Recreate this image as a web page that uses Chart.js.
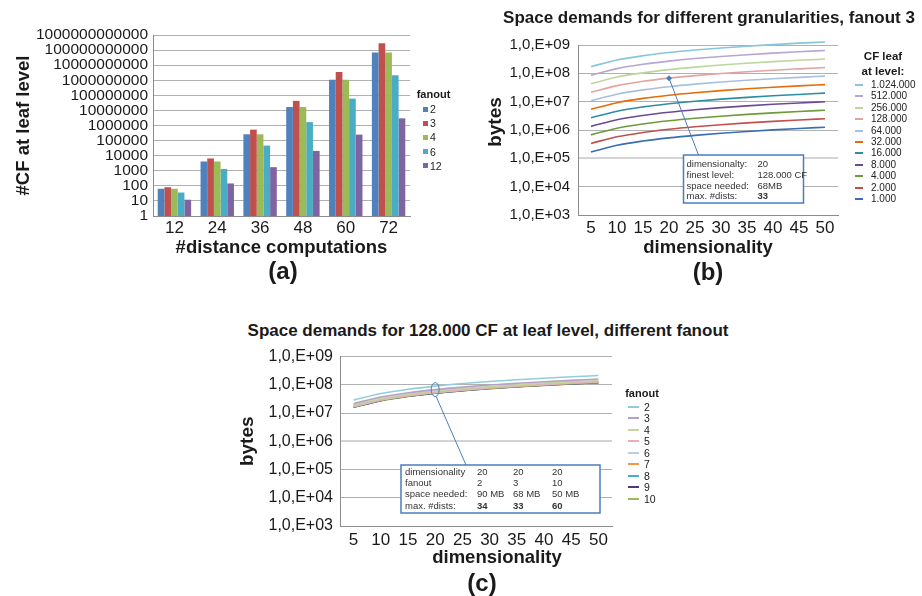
<!DOCTYPE html>
<html><head><meta charset="utf-8">
<script src="https://cdn.jsdelivr.net/npm/chart.js@4.4.1/dist/chart.umd.min.js"></script>
<style>
html,body{margin:0;padding:0;background:#fff}
body{width:922px;height:596px;position:relative;overflow:hidden;font-family:"Liberation Sans",Arial,Helvetica,sans-serif;color:#1a1a1a}
canvas{position:absolute;display:block}
.lbl{position:absolute;white-space:nowrap;font-weight:bold;line-height:1;transform:translate(-50%,-50%)}
.rot{transform:translate(-50%,-50%) rotate(-90deg)}
.li{position:absolute;white-space:nowrap;font-size:10.5px;line-height:1;transform:translateY(-50%);color:#222}
.lt{position:absolute;white-space:nowrap;font-size:11px;font-weight:bold;line-height:1;transform:translate(-50%,-50%)}
.sw{position:absolute}
</style></head><body>
<canvas id="cA" width="460" height="290" style="left:0;top:0;width:460px;height:290px"></canvas>
<canvas id="cB" width="462" height="290" style="left:460px;top:0;width:462px;height:290px"></canvas>
<canvas id="cC" width="440" height="256" style="left:230px;top:340px;width:440px;height:256px"></canvas>
<div class="lbl" style="left:709px;top:17px;font-size:17px">Space demands for different granularities, fanout 3</div>
<div class="lbl" style="left:488px;top:330px;font-size:17px">Space demands for 128.000 CF at leaf level, different fanout</div>
<div class="lbl" style="left:283px;top:271px;font-size:24px">(a)</div>
<div class="lbl" style="left:708px;top:272px;font-size:24px">(b)</div>
<div class="lbl" style="left:482px;top:583px;font-size:24px">(c)</div>
<div class="lbl rot" style="left:494px;top:122px;font-size:19px">bytes</div>
<div class="lbl" style="left:497px;top:557px;font-size:18.5px">dimensionality</div>
<div id="legends"></div>
<script>
// ---------- (a) data ----------
const distComputations = ['12','24','36','48','60','72'];
const fanoutsA = ['2','3','4','6','12'];
const cfFanout2  = [64, 4096, 262144, 16777216, 1073741824, 68719476736];
const cfFanout3  = [81, 6561, 531441, 43046721, 3486784401, 282429536481];
const cfFanout4  = [64, 4096, 262144, 16777216, 1073741824, 68719476736];
const cfFanout6  = [36, 1296, 46656, 1679616, 60466176, 2176782336];
const cfFanout12 = [12, 144, 1728, 20736, 248832, 2985984];
const yTickValuesA = [1,10,100,1000,10000,100000,1000000,10000000,100000000,1000000000,10000000000,100000000000,1000000000000];
const yTickLabelsA = ['1','10','100','1000','10000','100000','1000000','10000000','100000000','1000000000','10000000000','100000000000','1000000000000'];

// ---------- (b) data ----------
const dims = ['5','10','15','20','25','30','35','40','45','50'];
const cfLeafNames = ['1.024.000','512.000','256.000','128.000','64.000','32.000','16.000','8.000','4.000','2.000','1.000'];
const cf1024000 = [1.72e8, 2.95e8, 4.18e8, 5.41e8, 6.64e8, 7.86e8, 9.09e8, 1.03e9, 1.16e9, 1.28e9];
const cf512000  = [8.60e7, 1.47e8, 2.09e8, 2.70e8, 3.32e8, 3.93e8, 4.55e8, 5.16e8, 5.78e8, 6.39e8];
const cf256000  = [4.30e7, 7.37e7, 1.04e8, 1.35e8, 1.66e8, 1.97e8, 2.27e8, 2.58e8, 2.89e8, 3.19e8];
const cf128000  = [2.15e7, 3.69e7, 5.22e7, 6.76e7, 8.29e7, 9.83e7, 1.14e8, 1.29e8, 1.44e8, 1.60e8];
const cf64000   = [1.08e7, 1.84e7, 2.61e7, 3.38e7, 4.15e7, 4.92e7, 5.68e7, 6.45e7, 7.22e7, 7.99e7];
const cf32000   = [5.38e6, 9.22e6, 1.31e7, 1.69e7, 2.07e7, 2.46e7, 2.84e7, 3.23e7, 3.61e7, 3.99e7];
const cf16000   = [2.69e6, 4.61e6, 6.53e6, 8.45e6, 1.04e7, 1.23e7, 1.42e7, 1.61e7, 1.80e7, 2.00e7];
const cf8000    = [1.34e6, 2.30e6, 3.26e6, 4.22e6, 5.18e6, 6.14e6, 7.10e6, 8.06e6, 9.02e6, 9.98e6];
const cf4000    = [6.72e5, 1.15e6, 1.63e6, 2.11e6, 2.59e6, 3.07e6, 3.55e6, 4.03e6, 4.51e6, 4.99e6];
const cf2000    = [3.36e5, 5.76e5, 8.16e5, 1.06e6, 1.30e6, 1.54e6, 1.78e6, 2.02e6, 2.26e6, 2.50e6];
const cf1000    = [1.68e5, 2.88e5, 4.08e5, 5.28e5, 6.48e5, 7.68e5, 8.88e5, 1.01e6, 1.13e6, 1.25e6];
const yTickValuesBC = [1e3,1e4,1e5,1e6,1e7,1e8,1e9];
const yTickLabelsBC = ['1,0,E+03','1,0,E+04','1,0,E+05','1,0,E+06','1,0,E+07','1,0,E+08','1,0,E+09'];

// ---------- (c) data ----------
const fanoutsC = ['2','3','4','5','6','7','8','9','10'];
const fan2  = [2.87e7, 4.92e7, 6.96e7, 9.01e7, 1.11e8, 1.31e8, 1.52e8, 1.72e8, 1.93e8, 2.13e8];
const fan3  = [2.15e7, 3.69e7, 5.22e7, 6.76e7, 8.29e7, 9.83e7, 1.14e8, 1.29e8, 1.44e8, 1.60e8];
const fan4  = [1.91e7, 3.28e7, 4.64e7, 6.01e7, 7.37e7, 8.74e7, 1.01e8, 1.15e8, 1.28e8, 1.42e8];
const fan5  = [1.79e7, 3.07e7, 4.35e7, 5.63e7, 6.91e7, 8.19e7, 9.47e7, 1.08e8, 1.20e8, 1.33e8];
const fan6  = [1.72e7, 2.95e7, 4.18e7, 5.41e7, 6.64e7, 7.86e7, 9.09e7, 1.03e8, 1.16e8, 1.28e8];
const fan7  = [1.67e7, 2.87e7, 4.06e7, 5.26e7, 6.45e7, 7.65e7, 8.84e7, 1.00e8, 1.12e8, 1.24e8];
const fan8  = [1.64e7, 2.81e7, 3.98e7, 5.15e7, 6.32e7, 7.49e7, 8.66e7, 9.83e7, 1.10e8, 1.22e8];
const fan9  = [1.61e7, 2.76e7, 3.92e7, 5.07e7, 6.22e7, 7.37e7, 8.53e7, 9.68e7, 1.08e8, 1.20e8];
const fan10 = [1.59e7, 2.73e7, 3.87e7, 5.01e7, 6.14e7, 7.28e7, 8.42e7, 9.56e7, 1.07e8, 1.18e8];

// ---------- annotation texts ----------
const annotB = [['dimensionalty:','20'],['finest level:','128.000 CF'],['space needed:','68MB'],['max. #dists:','33']];
const annotC = [['dimensionality','20','20','20'],['fanout','2','3','10'],['space needed:','90 MB','68 MB','50 MB'],['max. #dists:','34','33','60']];
const annotIndex = 3; // dimensionality 20

// ---------- styles ----------
const FAM = '"Liberation Sans", Arial, Helvetica, sans-serif';
const TXT = '#1a1a1a';
const GRID = '#b0b0b0';
const AXIS = '#8c8c8c';
const ANN = '#4a7ebb';
const colorsA = ['#4F81BD','#C0504D','#9BBB59','#4BACC6','#8064A2'];
const colorsB = ['#86C5DA','#B7A6CF','#BDD69E','#E3A3A1','#A8BFE2','#E46C0A','#2F8CA3','#6A4A96','#6F9A3A','#C0504D','#3B6DB3'];
const colorsC = ['#93CDDD','#B3A2C7','#C3D69B','#E6B0AE','#B9CDE5','#F79646','#4BACC6','#4F3A75','#9BBB59'];

Chart.defaults.font.family = FAM;
Chart.defaults.color = TXT;

const seriesA = [cfFanout2, cfFanout3, cfFanout4, cfFanout6, cfFanout12];
const seriesB = [cf1024000, cf512000, cf256000, cf128000, cf64000, cf32000, cf16000, cf8000, cf4000, cf2000, cf1000];
const seriesC = [fan2, fan3, fan4, fan5, fan6, fan7, fan8, fan9, fan10];

function logY(min, max, values, labels, width, pad, fontSize, title, softLine) {
  return {
    type: 'logarithmic', min, max,
    afterBuildTicks(s) { s.ticks = values.map(v => ({value: v})); },
    afterFit(s) { s.width = width; },
    ticks: { autoSkip: false, padding: pad, color: TXT, font: {size: fontSize},
             callback: (v, i) => labels[i] },
    grid: { drawTicks: false,
            color: c => (c.tick && c.tick.value === softLine) ? '#d4d4d4' : GRID,
            lineWidth: c => (c.tick && c.tick.value === softLine) ? 2 : 1 },
    border: { display: true, color: AXIS, width: 1 },
    title: title || { display: false }
  };
}
function catX(height, pad, fontSize, title, offset) {
  return {
    type: 'category', offset: offset,
    afterFit(s) { s.height = height; },
    ticks: { padding: pad, color: TXT, font: {size: fontSize}, autoSkip: false, maxRotation: 0 },
    grid: { display: false, drawTicks: false },
    border: { display: true, color: AXIS, width: 1 },
    title: title || { display: false }
  };
}

// ---------- chart (a) ----------
new Chart(document.getElementById('cA'), {
  type: 'bar',
  data: { labels: distComputations,
    datasets: seriesA.map((d, i) => ({ label: fanoutsA[i], data: d, backgroundColor: colorsA[i], borderWidth: 0,
      categoryPercentage: 0.78, barPercentage: 1 })) },
  options: {
    responsive: false, animation: false,
    layout: { padding: { left: 0, right: 50, top: 35, bottom: 30 } },
    plugins: { legend: { display: false }, tooltip: { enabled: false } },
    scales: {
      x: catX(44, 2, 17, { display: true, text: '#distance computations', color: TXT,
           font: { size: 18.5, weight: 'bold' }, padding: { top: 0, bottom: 1 } }, true),
      y: logY(1, 1e12, yTickValuesA, yTickLabelsA, 153, 5, 15.5,
           { display: true, text: '#CF at leaf level', color: TXT, font: { size: 18.5, weight: 'bold' }, padding: { top: 13, bottom: 0 } }, null)
    }
  }
});

// ---------- chart (b) ----------
const annotPluginB = {
  id: 'annotB',
  afterDatasetsDraw(chart) {
    const { ctx, scales: { x, y } } = chart;
    const px = x.getPixelForValue(annotIndex);
    const py = y.getPixelForValue(cf128000[annotIndex]);
    const bx = 223.5, by = 155, bw = 120, bh = 48;
    ctx.save();
    ctx.strokeStyle = ANN; ctx.lineWidth = 1;
    ctx.beginPath(); ctx.moveTo(bx + 15, by); ctx.lineTo(px, py); ctx.stroke();
    ctx.fillStyle = ANN;
    ctx.beginPath(); ctx.moveTo(px, py - 3); ctx.lineTo(px + 3, py); ctx.lineTo(px, py + 3); ctx.lineTo(px - 3, py); ctx.closePath(); ctx.fill();
    ctx.fillStyle = '#fff'; ctx.fillRect(bx, by, bw, bh);
    ctx.lineWidth = 1.5; ctx.strokeRect(bx, by, bw, bh);
    ctx.fillStyle = '#333'; ctx.textBaseline = 'alphabetic'; ctx.textAlign = 'left';
    const rows = [11.5, 22.5, 33.5, 43.5];
    annotB.forEach((r, i) => {
      ctx.font = '9.5px ' + FAM; ctx.fillText(r[0], bx + 3, by + rows[i]);
      ctx.font = (i === 3 ? 'bold ' : '') + '9.5px ' + FAM; ctx.fillText(r[1], bx + 74, by + rows[i]);
    });
    ctx.restore();
  }
};
new Chart(document.getElementById('cB'), {
  type: 'line',
  data: { labels: dims,
    datasets: seriesB.map((d, i) => ({ label: cfLeafNames[i], data: d, borderColor: colorsB[i], backgroundColor: colorsB[i],
      borderWidth: 1.6, pointRadius: 0, cubicInterpolationMode: 'monotone', fill: false, clip: 8 })) },
  options: {
    responsive: false, animation: false,
    layout: { padding: { left: 0, right: 84, top: 45, bottom: 30 } },
    plugins: { legend: { display: false }, tooltip: { enabled: false } },
    scales: {
      x: catX(45, 3, 17, { display: true, text: 'dimensionality', color: TXT,
           font: { size: 18.5, weight: 'bold' }, padding: { top: 0, bottom: 1 } }, true),
      y: logY(1e3, 1e9, yTickValuesBC, yTickLabelsBC, 118, 8, 15, null, 1e5)
    }
  },
  plugins: [annotPluginB]
});

// ---------- chart (c) ----------
const annotPluginC = {
  id: 'annotC',
  afterDatasetsDraw(chart) {
    const { ctx, scales: { x, y } } = chart;
    const px = x.getPixelForValue(annotIndex);
    const py = y.getPixelForValue(fan3[annotIndex]);
    const bx = 171, by = 125, bw = 199, bh = 48;
    ctx.save();
    ctx.strokeStyle = ANN; ctx.lineWidth = 1;
    ctx.beginPath(); ctx.ellipse(px, py, 4, 7, 0, 0, Math.PI * 2); ctx.stroke();
    ctx.beginPath(); ctx.moveTo(bx + 65, by); ctx.lineTo(px + 1, py + 7); ctx.stroke();
    ctx.fillStyle = '#fff'; ctx.fillRect(bx, by, bw, bh);
    ctx.save();
    ctx.beginPath(); ctx.rect(bx, by + 1, bw, bh); ctx.clip();
    ctx.fillStyle = '#333'; ctx.textBaseline = 'alphabetic'; ctx.textAlign = 'left';
    const rows = [9.5, 21, 32, 43.5];
    const cols = [4, 76, 112, 151];
    annotC.forEach((r, i) => {
      r.forEach((t, j) => {
        ctx.font = ((i === 3 && j > 0) ? 'bold ' : '') + '9.5px ' + FAM;
        ctx.fillText(t, bx + cols[j], by + rows[i]);
      });
    });
    ctx.restore();
    ctx.lineWidth = 1.5; ctx.strokeStyle = ANN; ctx.strokeRect(bx, by, bw, bh);
    ctx.restore();
  }
};
new Chart(document.getElementById('cC'), {
  type: 'line',
  data: { labels: dims,
    datasets: seriesC.map((d, i) => ({ label: fanoutsC[i], data: d, borderColor: colorsC[i], backgroundColor: colorsC[i],
      borderWidth: 1.6, pointRadius: 0, cubicInterpolationMode: 'monotone', fill: false })) },
  options: {
    responsive: false, animation: false,
    layout: { padding: { left: 0, right: 58, top: 13, bottom: 22 } },
    plugins: { legend: { display: false }, tooltip: { enabled: false } },
    scales: {
      x: catX(48, 4, 17, null, true),
      y: logY(1e3, 1e9, yTickValuesBC, yTickLabelsBC, 110, 7, 16,
           { display: true, text: 'bytes', color: TXT, font: { size: 19, weight: 'bold' }, padding: { top: 6.6, bottom: 0 } }, 1e6)
    }
  },
  plugins: [annotPluginC]
});

// ---------- legends (HTML) ----------
const L = document.getElementById('legends');
function el(cls, css, text) {
  const d = document.createElement('div'); d.className = cls; d.style.cssText = css;
  if (text !== undefined) d.textContent = text; L.appendChild(d); return d;
}
// (a)
el('lt', 'left:433.5px;top:94px', 'fanout');
fanoutsA.forEach((f, i) => {
  const yy = 109 + i * 14.2;
  el('sw', `left:423px;top:${yy - 2.5}px;width:5px;height:5px;background:${colorsA[i]}`);
  el('li', `left:430px;top:${yy}px`, f);
});
// (b)
el('lt', 'left:883px;top:57px;font-size:11.5px', 'CF leaf');
el('lt', 'left:883px;top:72px;font-size:11.5px', 'at level:');
cfLeafNames.forEach((n, i) => {
  const yy = 85 + i * 11.4;
  el('sw', `left:855px;top:${yy - 1}px;width:8px;height:2px;background:${colorsB[i]}`);
  el('li', `left:871px;top:${yy}px;font-size:10px`, n);
});
// (c)
el('lt', 'left:642px;top:393px', 'fanout');
fanoutsC.forEach((n, i) => {
  const yy = 406.5 + i * 11.5;
  el('sw', `left:628px;top:${yy - 1}px;width:11px;height:2px;background:${colorsC[i]}`);
  el('li', `left:644px;top:${yy}px;font-size:10.5px`, n);
});
</script>
</body></html>
